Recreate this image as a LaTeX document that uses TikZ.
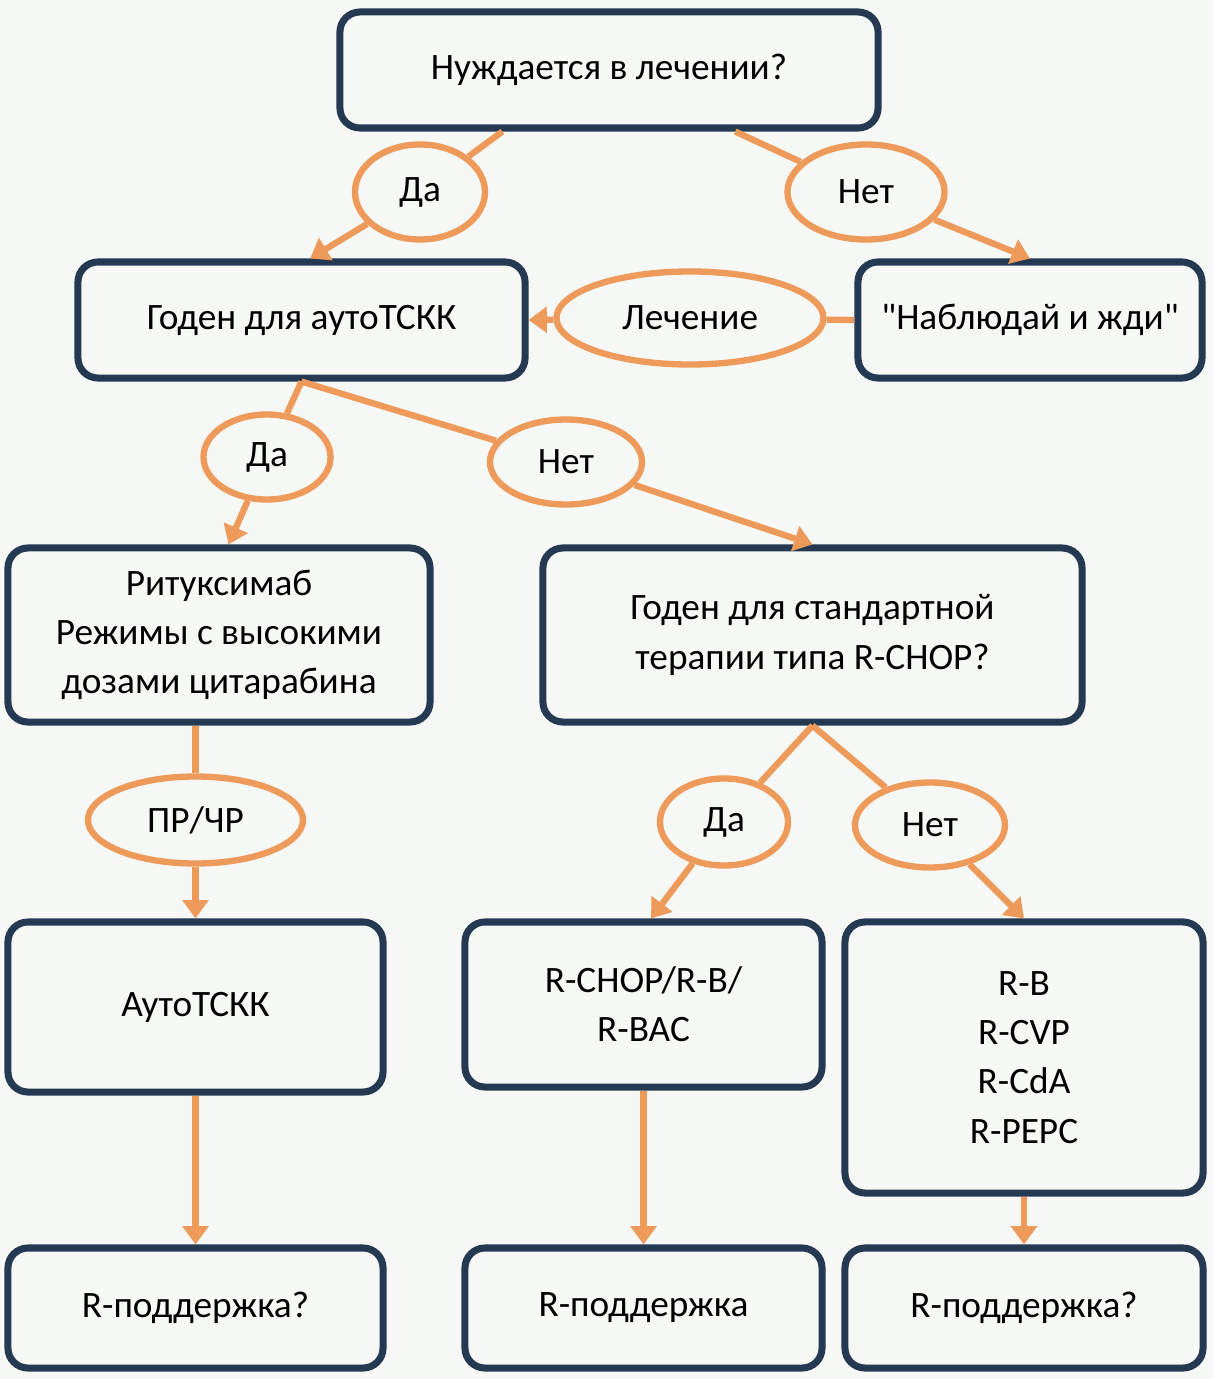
\documentclass[tikz,border=0pt]{standalone}
\usepackage{fontspec}
\setmainfont{Carlito}
\usepackage{tikz}
\usetikzlibrary{arrows.meta,shapes.geometric,positioning}

\definecolor{navy}{HTML}{253A52}
\definecolor{peach}{HTML}{EE9A5A}
\definecolor{paper}{HTML}{F6F8F5}

\begin{document}
\begin{tikzpicture}[x=0.025cm, y=-0.025cm,
box/.style={
		rounded corners=0.5cm,
		draw=navy, line width=5pt, fill=paper,
		align=center, inner sep=0pt,
		font=\fontsize{26.5}{35}\selectfont,
		},
oval/.style={
		ellipse, draw=peach, line width=4.5pt, fill=paper,
		inner sep=0pt, font=\fontsize{26.5}{35}\selectfont,
		},
link/.style={draw=peach, line width=4.5pt},
arr/.style={link, -{Triangle[width=18pt,length=13pt]}},
]

\useasboundingbox[fill=paper] (0,0) rectangle (1213,1379);

% boxes
\node[box, minimum width=13.45cm, minimum height=2.9cm] (ask) at (609,70) {Нуждается в лечении?};
\node[box, minimum width=11.175cm, minimum height=2.9cm] (fitauto) at (301.5,320) {Годен для аутоТСКК};
\node[box, minimum width=8.6cm, minimum height=2.9cm] (watch) at (1030,320) {\textquotedbl Наблюдай и жди\textquotedbl};
\node[box, minimum width=10.55cm, minimum height=4.35cm] (ritux) at (219,635)
  {Ритуксимаб\\Режимы с высокими\\дозами цитарабина};
\node[box, minimum width=13.475cm, minimum height=4.35cm] (std) at (812.5,635)
  {Годен для стандартной\\терапии типа R-CHOP?};
\node[box, minimum width=9.375cm, minimum height=4.25cm] (autotx) at (195.5,1007) {АутоТСКК};
\node[box, minimum width=8.925cm, minimum height=4.125cm] (rchop) at (643.5,1004.5) {R-CHOP/R-B/\\R-BAC};
\node[box, minimum width=8.95cm, minimum height=6.775cm] (rblist) at (1024,1057.5)
  {R-B\\R-CVP\\R-CdA\\R-PEPC};
\node[box, minimum width=9.375cm, minimum height=3cm] (maint1) at (195.5,1308) {R-поддержка?};
\node[box, minimum width=8.925cm, minimum height=3cm] (maint2) at (643.5,1308) {R-поддержка};
\node[box, minimum width=8.95cm, minimum height=3cm] (maint3) at (1024,1308) {R-поддержка?};

% answers
\node[oval, minimum width=3.25cm, minimum height=2.375cm] (yes1) at (420,192) {Да};
\node[oval, minimum width=3.925cm, minimum height=2.375cm] (no1) at (866,192) {Нет};
\node[oval, minimum width=6.675cm, minimum height=2.325cm] (treat) at (690,318) {Лечение};
\node[oval, minimum width=3.175cm, minimum height=2.125cm] (yes2) at (267,457) {Да};
\node[oval, minimum width=3.8cm, minimum height=2.125cm] (no2) at (566,462) {Нет};
\node[oval, minimum width=5.375cm, minimum height=2.175cm] (prcr) at (195.5,820) {ПР/ЧР};
\node[oval, minimum width=3.2cm, minimum height=2.175cm] (yes3) at (724,822) {Да};
\node[oval, minimum width=3.75cm, minimum height=2.125cm] (no3) at (930,825) {Нет};

% connectors
\draw[link] (ask.210) -- (yes1);
\draw[arr] (yes1) -- (fitauto.82);
\draw[link] (ask.334) -- (no1);
\draw[arr] (no1) -- (watch.north);
\draw[link] (watch.west) -- (treat);
\draw[arr] (treat) -- (fitauto.east);
\draw[link] (fitauto.south) -- (yes2);
\draw[arr] (yes2) -- (ritux.84);
\draw[link] (fitauto.south) -- (no2);
\draw[arr] (no2) -- (std.north);
\draw[link] (ritux.south -| autotx.north) -- (prcr);
\draw[arr] (prcr) -- (autotx);
\draw[link] (std.south) -- (yes3);
\draw[arr] (yes3) -- (rchop.85);
\draw[link] (std.south) -- (no3);
\draw[arr] (no3) -- (rblist.north);
\draw[arr] (autotx) -- (maint1);
\draw[arr] (rchop) -- (maint2);
\draw[arr] (rblist) -- (maint3);
\end{tikzpicture}
\end{document}
